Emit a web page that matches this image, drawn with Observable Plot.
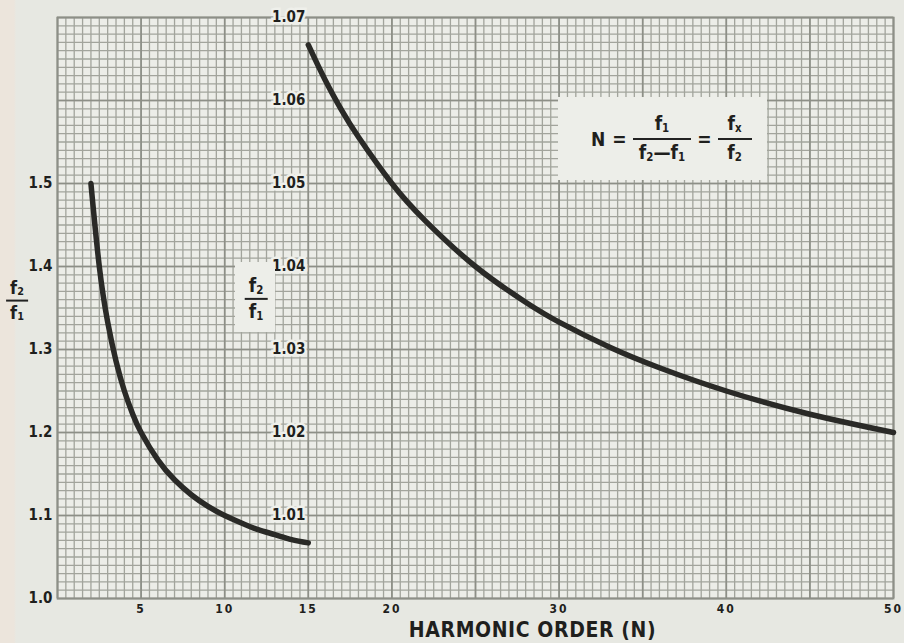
<!DOCTYPE html>
<html>
<head>
<meta charset="utf-8">
<script src="https://cdn.jsdelivr.net/npm/d3@7"></script>
<script src="https://cdn.jsdelivr.net/npm/@observablehq/plot@0.6"></script>
<style>
  body { margin: 0; background: #e7e8e2; }
  #wrap {
    position: relative; width: 904px; height: 643px; overflow: hidden;
    background: linear-gradient(to right, #ece5dc 0px, #ece5dc 14px, #e7e8e2 16px);
    font-family: "Liberation Sans Narrow", "DejaVu Sans Condensed", sans-serif;
    font-weight: bold; color: #1f1f1d;
  }
  #wrap svg { position: absolute; left: 0; top: 0; }
  .box { position: absolute; background: #edeee9; }
  .frac {
    position: absolute; transform: translate(-50%, -50%);
    display: inline-flex; flex-direction: column; align-items: center; line-height: 1;
  }
  .frac .num { padding: 0 4px 2px; border-bottom: 2px solid #222; }
  .frac .den { padding-top: 2px; }
  .frac sub { font-size: 0.6em; vertical-align: -0.15em; }
  .formula {
    position: absolute; display: flex; align-items: center;
    font-size: 19px;
  }
  .formula .frac { position: static; transform: none; }
</style>
</head>
<body>
<div id="wrap"></div>
<script>
// ---- data ----
const leftN     = [2, 2.5, 3, 3.5, 4, 4.5, 5, 6, 7, 8, 9, 10, 11, 12, 13, 14, 15];
const leftRatio = [1.5, 1.4, 1.333, 1.286, 1.25, 1.222, 1.2, 1.167, 1.143, 1.125, 1.111, 1.1, 1.091, 1.083, 1.077, 1.071, 1.067];
const rightN     = [15, 16, 17, 18, 20, 22, 25, 28, 30, 33, 36, 40, 45, 50];
const rightRatio = [1.0667, 1.0625, 1.0588, 1.0556, 1.05, 1.0455, 1.04, 1.0357, 1.0333, 1.0303, 1.0278, 1.025, 1.0222, 1.02];
const xTicks     = [5, 10, 15, 20, 30, 40, 50];
const leftTicks  = [1.0, 1.1, 1.2, 1.3, 1.4, 1.5];
const rightTicks = [1.01, 1.02, 1.03, 1.04, 1.05, 1.06, 1.07];
const rightAxisAt = 15;
const xTitle = "HARMONIC ORDER (N)";

// right-hand scale (1.00–1.07) shares the frame with the left one (1.0–1.7)
const toLeft = v => 1 + (v - 1) * 10;

const leftData  = leftN.map((n, i) => ({n, r: leftRatio[i]}));
const rightData = rightN.map((n, i) => ({n, r: toLeft(rightRatio[i])}));

const minorX = d3.range(0, 100.5, 1).map(i => i / 2);
const minorY = d3.range(0, 71).map(i => 1 + i / 100);
const majorX = d3.range(0, 51, 5);
const majorY = d3.range(0, 8).map(i => 1 + i / 10);

const grid = "#a2a49c", gridMajor = "#8d8f87", ink = "#2a2a27";

const chart = Plot.plot({
  width: 904, height: 643,
  marginLeft: 57, marginRight: 11, marginTop: 17, marginBottom: 45,
  x: {domain: [0, 50]},
  y: {domain: [1, 1.7]},
  style: {background: "transparent", fontFamily: '"Liberation Sans Narrow", "DejaVu Sans Condensed", sans-serif', fontWeight: "bold", color: "#1f1f1d"},
  marks: [
    Plot.frame({fill: "#ecede8", stroke: null}),
    Plot.ruleX(minorX, {stroke: grid, strokeWidth: 1.3}),
    Plot.ruleY(minorY, {stroke: grid, strokeWidth: 1.3}),
    Plot.ruleX(majorX, {stroke: gridMajor, strokeWidth: 1.7}),
    Plot.ruleY(majorY, {stroke: gridMajor, strokeWidth: 1.7}),
    Plot.frame({stroke: gridMajor, strokeWidth: 1.8}),
    Plot.axisX({ticks: xTicks, tickSize: 0, tickPadding: 6, fontSize: 12, label: null}),
    Plot.axisY({ticks: leftTicks, tickSize: 0, tickPadding: 5, fontSize: 15, tickFormat: d => d.toFixed(1), label: null}),
    Plot.line(leftData, {x: "n", y: "r", stroke: ink, strokeWidth: 5.5, curve: "natural"}),
    Plot.line(rightData, {x: "n", y: "r", stroke: ink, strokeWidth: 5.5, curve: "natural"}),
    Plot.text(rightTicks, {
      x: () => rightAxisAt, y: d => toLeft(d), text: d => d.toFixed(2),
      textAnchor: "end", dx: -3, fontSize: 15, fill: "#1f1f1d",
      stroke: "#eff0eb", strokeWidth: 5, strokeLinejoin: "miter"
    }),
    Plot.text([xTitle], {frameAnchor: "bottom", dx: 57, dy: 38, fontSize: 21, fill: "#1f1f1d"})
  ]
});

d3.select(chart).selectAll("text")
  .filter(function() { return this.textContent === xTitle; })
  .attr("letter-spacing", 0.6);
d3.select(chart).selectAll("g[aria-label='x-axis tick label'] text").attr("letter-spacing", 2);

const wrap = document.getElementById("wrap");
wrap.appendChild(chart);

// annotation overlays
wrap.insertAdjacentHTML("beforeend", `
  <div class="box" style="left:558px;top:97px;width:209px;height:83px"></div>
  <div class="formula" style="left:591px;top:97px;height:83px">
    <span style="margin-right:7px">N</span><span>=</span>
    <span class="frac" style="margin:0 6px"><span class="num" style="padding:0 22px 3px">f<sub>1</sub></span><span class="den" style="padding-top:3px">f<sub>2</sub>—f<sub>1</sub></span></span>
    <span>=</span>
    <span class="frac" style="margin-left:6px"><span class="num" style="padding:0 10px 3px">f<sub>x</sub></span><span class="den" style="padding-top:3px">f<sub>2</sub></span></span>
  </div>
  <div class="box" style="left:235px;top:262px;width:40px;height:70px"></div>
  <div class="frac" style="left:256px;top:299px;font-size:19px"><span class="num">f<sub>2</sub></span><span class="den">f<sub>1</sub></span></div>
  <div class="frac" style="left:17px;top:301px;font-size:18px"><span class="num">f<sub>2</sub></span><span class="den">f<sub>1</sub></span></div>
`);
</script>
</body>
</html>
